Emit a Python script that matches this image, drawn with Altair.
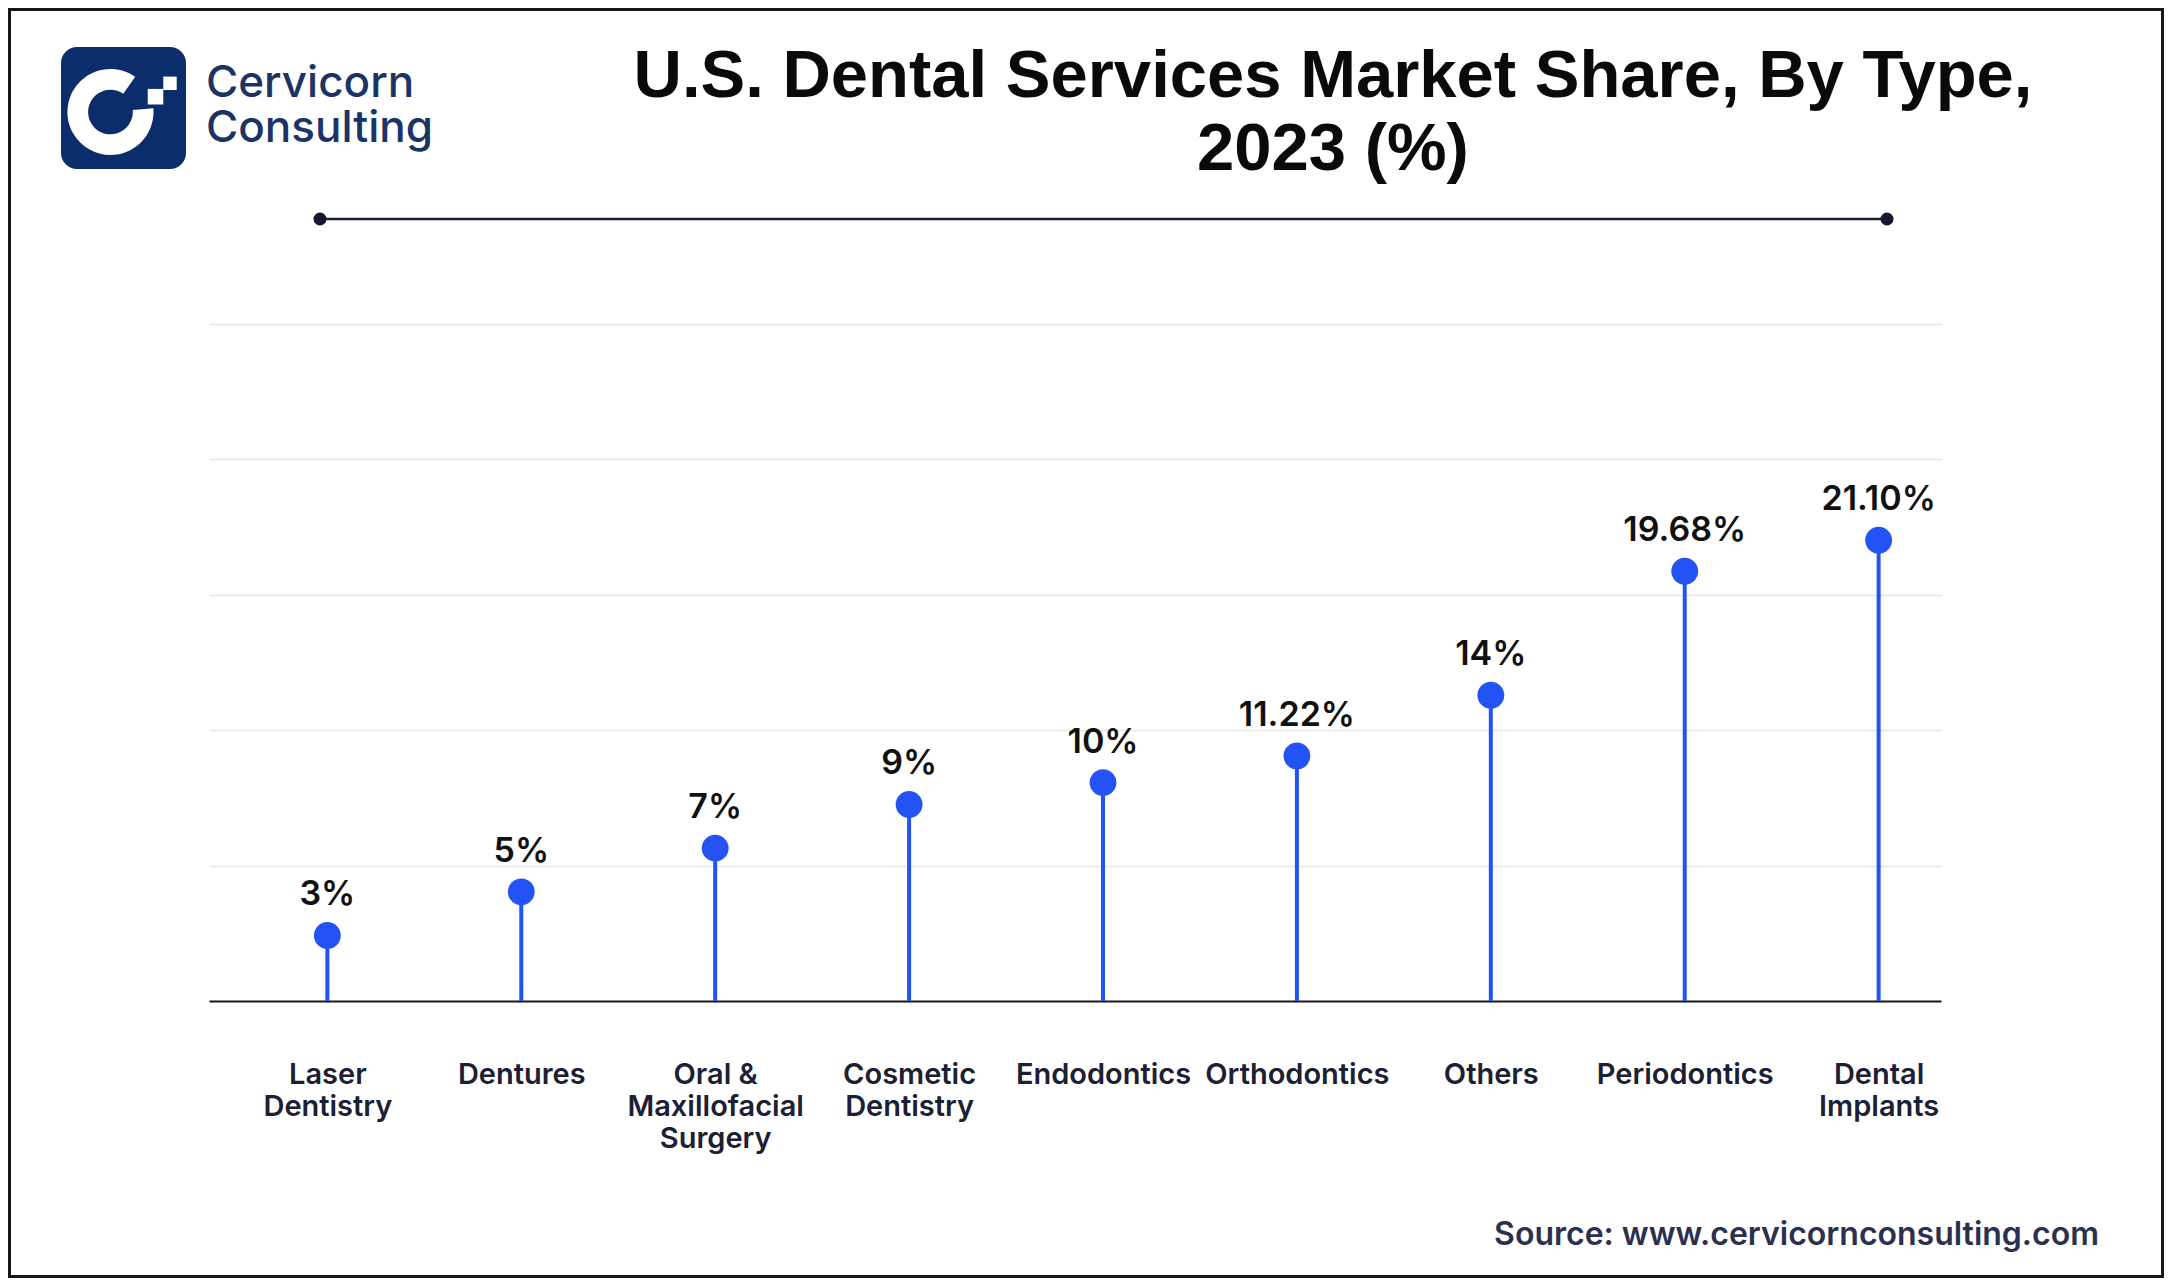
import altair as alt
import pandas as pd

# ---- data ----
categories = ["Laser Dentistry", "Dentures", "Oral & Maxillofacial Surgery",
              "Cosmetic Dentistry", "Endodontics", "Orthodontics", "Others",
              "Periodontics", "Dental Implants"]
shares = [3, 5, 7, 9, 10, 11.22, 14, 19.68, 21.10]
share_labels = ["3%", "5%", "7%", "9%", "10%", "11.22%", "14%", "19.68%", "21.10%"]
title_lines = ["U.S. Dental Services Market Share, By Type,", "2023 (%)"]
brand_lines = ["Cervicorn", "Consulting"]
source_text = "Source: www.cervicornconsulting.com"
y_max = 31
grid_values = [0, 6.2, 12.4, 18.6, 24.8, 31]

df = pd.DataFrame({"type": categories, "share": shares, "label": share_labels})
one = alt.InlineData(values=[{"k": 1}])

W, H = 1732, 677
BLUE = "#2453F5"
NAVY = "#0c2d6b"
SHIFT = 28

label_expr = ("datum.label == 'Oral & Maxillofacial Surgery' ? "
              "['Oral &', 'Maxillofacial', 'Surgery'] : split(datum.label, ' ')")

x_enc = alt.X(
    "type:N", sort=categories,
    scale=alt.Scale(type="point", padding=0.466),
    axis=alt.Axis(title=None, labelExpr=label_expr, labelFont="Inter",
                  labelFontSize=29, labelFontWeight=600, labelColor="#1c2033",
                  labelLineHeight=32, labelPadding=59, ticks=False, tickSize=0,
                  labelAngle=0, labelOverlap=False, labelLimit=500,
                  labelOffset=SHIFT,
                  domainColor="#1a1a1a", domainWidth=2, grid=False),
)
y_enc = alt.Y(
    "share:Q",
    scale=alt.Scale(domain=[0, y_max], nice=False, zero=True),
    axis=alt.Axis(title=None, values=grid_values, labels=False, ticks=False,
                  domain=False, grid=True, gridColor="#e6e6e6", gridWidth=1.3),
)

base = alt.Chart(df).encode(x=x_enc, y=y_enc)

stems = base.mark_rule(color=BLUE, strokeWidth=4, xOffset=SHIFT).encode(y2=alt.datum(0))
dots = base.mark_circle(size=720, color=BLUE, opacity=1, xOffset=SHIFT)
vals = base.mark_text(dy=-30, xOffset=SHIFT, baseline="alphabetic", font="Inter",
                      fontSize=34, fontWeight=600, color="#111111").encode(text="label:N")

# ---- decorations ----
frame = alt.Chart(one).mark_rect(filled=False, stroke="#15171f", strokeWidth=3).encode(
    x=alt.value(-199.5), x2=alt.value(1953.5), y=alt.value(-314.5), y2=alt.value(952.5))

logo_bg = alt.Chart(one).mark_rect(cornerRadius=16, color=NAVY).encode(
    x=alt.value(-148), x2=alt.value(-23), y=alt.value(-277), y2=alt.value(-155))

c_path = ("M 0.5736 -0.8192 A 1 1 0 1 0 0.9962 -0.0872 "
          "L 0.5180 -0.0453 A 0.52 0.52 0 1 1 0.2983 -0.4260 Z")
logo_c = alt.Chart(one).mark_point(shape=c_path, size=7396, filled=True,
                                   color="white", opacity=1, strokeWidth=0).encode(
    x=alt.value(-98.5), y=alt.value(-212))
logo_sq1 = alt.Chart(one).mark_square(size=243, color="white", opacity=1).encode(
    x=alt.value(-53.5), y=alt.value(-227.3))
logo_sq2 = alt.Chart(one).mark_square(size=180, color="white", opacity=1).encode(
    x=alt.value(-39), y=alt.value(-240.7))

brand1 = alt.Chart(one).mark_text(text=brand_lines[0], font="Inter", fontSize=44,
                                  fontWeight=500, align="left", baseline="alphabetic",
                                  color="#1c3366").encode(
    x=alt.value(-3), y=alt.value(-227))
brand2 = alt.Chart(one).mark_text(text=brand_lines[1], font="Inter", fontSize=44,
                                  fontWeight=500, align="left", baseline="alphabetic",
                                  color="#1c3366").encode(
    x=alt.value(-3), y=alt.value(-182))

title = alt.Chart(one).mark_text(text=title_lines, font="Liberation Sans", fontSize=67,
                                 fontWeight="bold", align="center", baseline="alphabetic",
                                 lineHeight=73, color="#0a0a0a").encode(
    x=alt.value(1124), y=alt.value(-227))

deco_line = alt.Chart(one).mark_rule(color="#1a1d3a", strokeWidth=2.5).encode(
    x=alt.value(111), x2=alt.value(1678), y=alt.value(-105))
deco_dot1 = alt.Chart(one).mark_circle(size=170, color="#141833", opacity=1).encode(
    x=alt.value(111), y=alt.value(-105))
deco_dot2 = alt.Chart(one).mark_circle(size=170, color="#141833", opacity=1).encode(
    x=alt.value(1678), y=alt.value(-105))

source = alt.Chart(one).mark_text(text=source_text, font="Inter", fontSize=32,
                                  fontWeight=600, align="right", baseline="alphabetic",
                                  color="#2b3050").encode(
    x=alt.value(1890), y=alt.value(921))

chart = alt.layer(
    stems, dots, vals,
    frame, logo_bg, logo_c, logo_sq1, logo_sq2, brand1, brand2, title,
    deco_line, deco_dot1, deco_dot2, source,
).properties(
    width=W, height=H,
    padding={"left": 201, "top": 316, "right": 223, "bottom": 277},
    autosize=alt.AutoSizeParams(type="none"),
    background="white",
).configure_view(stroke=None)

chart.save("out.html", embed_options={"renderer": "svg", "actions": False})
